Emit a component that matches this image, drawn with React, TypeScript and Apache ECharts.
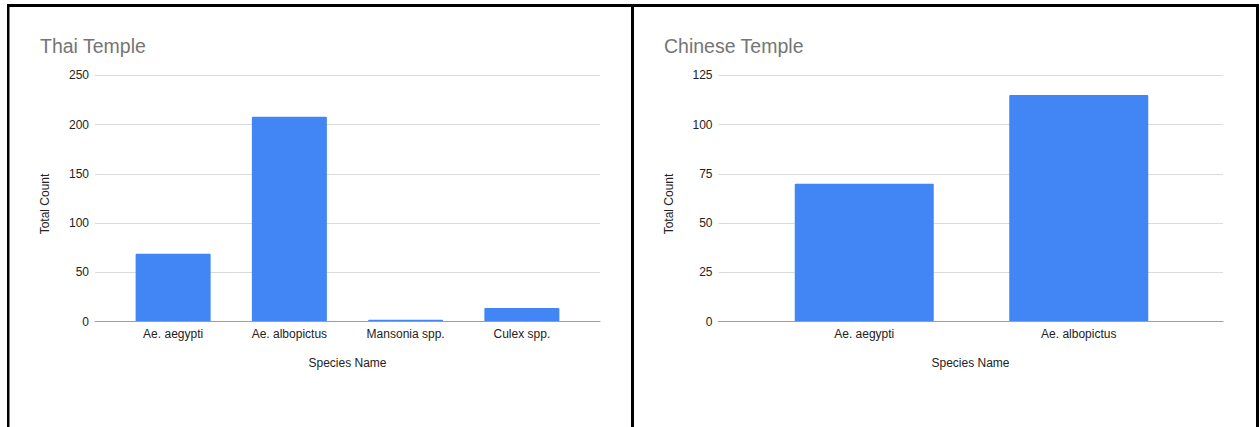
import React, { useEffect, useRef } from "react";
import * as echarts from "echarts";

// Mosquito counts per species at each temple site
const thaiSpecies = ["Ae. aegypti", "Ae. albopictus", "Mansonia spp.", "Culex spp."];
const thaiCounts = [69, 208, 2, 14];
const chineseSpecies = ["Ae. aegypti", "Ae. albopictus"];
const chineseCounts = [70, 115];

// Value-axis ranges
const thaiAxisMax = 250;
const thaiAxisStep = 50;
const chineseAxisMax = 125;
const chineseAxisStep = 25;

const titles = ["Thai Temple", "Chinese Temple"];
const xAxisTitle = "Species Name";
const yAxisTitle = "Total Count";

const FONT = '"Liberation Sans", Arial, Helvetica, sans-serif';
const BAR_COLOR = "#4285f4";
const GRID_COLOR = "#dadada";
const BASE_COLOR = "#9e9e9e";
const LABEL_COLOR = "#222222";
const TITLE_COLOR = "#757575";

const PLOT_TOP = 75.3;
const PLOT_H = 246.4;

export default function App() {
  const ref = useRef<HTMLDivElement>(null);

  useEffect(() => {
    if (!ref.current) return;
    const chart = echarts.init(ref.current, undefined, { renderer: "svg" });

    const labelStyle = { color: LABEL_COLOR, fontSize: 12, fontFamily: FONT };

    // Each panel: a wide grid for gridlines/baseline/ticks, and an inset grid for the bars
    const panels = [
      {
        categories: thaiSpecies,
        values: thaiCounts,
        max: thaiAxisMax,
        step: thaiAxisStep,
        backLeft: 95,
        backWidth: 505,
        barLeft: 115,
        barAreaWidth: 465,
        barWidth: 75,
      },
      {
        categories: chineseSpecies,
        values: chineseCounts,
        max: chineseAxisMax,
        step: chineseAxisStep,
        backLeft: 718.5,
        backWidth: 504.5,
        barLeft: 757,
        barAreaWidth: 429,
        barWidth: 139,
      },
    ];

    const grid: any[] = [];
    const xAxis: any[] = [];
    const yAxis: any[] = [];
    const series: any[] = [];

    panels.forEach((p, i) => {
      const back = i * 2;
      const front = i * 2 + 1;
      grid.push({ left: p.backLeft, top: PLOT_TOP, width: p.backWidth, height: PLOT_H });
      grid.push({ left: p.barLeft, top: PLOT_TOP, width: p.barAreaWidth, height: PLOT_H });

      xAxis.push({
        gridIndex: back,
        type: "category",
        data: p.categories,
        axisLabel: { show: false },
        axisTick: { show: false },
        axisLine: { show: true, lineStyle: { color: BASE_COLOR, width: 1 } },
        splitLine: { show: false },
        z: 5,
      });
      xAxis.push({
        gridIndex: front,
        type: "category",
        data: p.categories,
        axisLine: { show: false },
        axisTick: { show: false },
        axisLabel: { ...labelStyle, margin: 6, interval: 0 },
        splitLine: { show: false },
      });

      yAxis.push({
        gridIndex: back,
        type: "value",
        min: 0,
        max: p.max,
        interval: p.step,
        axisLine: { show: false },
        axisTick: { show: false },
        axisLabel: { ...labelStyle, margin: 6 },
        splitLine: { show: true, lineStyle: { color: GRID_COLOR, width: 1 } },
      });
      yAxis.push({
        gridIndex: front,
        type: "value",
        min: 0,
        max: p.max,
        show: false,
        splitLine: { show: false },
      });

      series.push({
        type: "bar",
        xAxisIndex: front,
        yAxisIndex: front,
        data: p.values,
        barWidth: p.barWidth,
        itemStyle: { color: BAR_COLOR, borderRadius: 1 },
        z: 3,
      });
    });

    const axisTitle = (text: string, x: number, y: number, rotate = false) => ({
      type: "text",
      x,
      y,
      rotation: rotate ? Math.PI / 2 : 0,
      style: {
        text,
        fill: LABEL_COLOR,
        font: `12px ${FONT}`,
        align: "center",
        verticalAlign: "middle",
      },
      silent: true,
    });

    const border = (x: number, y: number, width: number, height: number) => ({
      type: "rect",
      shape: { x, y, width, height },
      style: { fill: "#000000" },
      silent: true,
    });

    chart.setOption({
      animation: false,
      backgroundColor: "#ffffff",
      title: [
        {
          text: titles[0],
          left: 40,
          top: 35.5,
          padding: 0,
          textStyle: { color: TITLE_COLOR, fontSize: 19.5, fontWeight: "normal", fontFamily: FONT },
        },
        {
          text: titles[1],
          left: 664,
          top: 35.5,
          padding: 0,
          textStyle: { color: TITLE_COLOR, fontSize: 19.5, fontWeight: "normal", fontFamily: FONT },
        },
      ],
      grid,
      xAxis,
      yAxis,
      series,
      graphic: [
        axisTitle(xAxisTitle, 347.5, 363),
        axisTitle(xAxisTitle, 970.5, 363),
        axisTitle(yAxisTitle, 45, 204, true),
        axisTitle(yAxisTitle, 669.3, 204, true),
        border(7, 4, 1252, 3),
        border(7, 4, 2.5, 423),
        border(631, 4, 3, 423),
        border(1256, 4, 3, 423),
      ],
    });

    return () => chart.dispose();
  }, []);

  return (
    <div
      ref={ref}
      style={{ position: "absolute", left: 0, top: 0, width: 1260, height: 427, background: "#fff" }}
    />
  );
}
